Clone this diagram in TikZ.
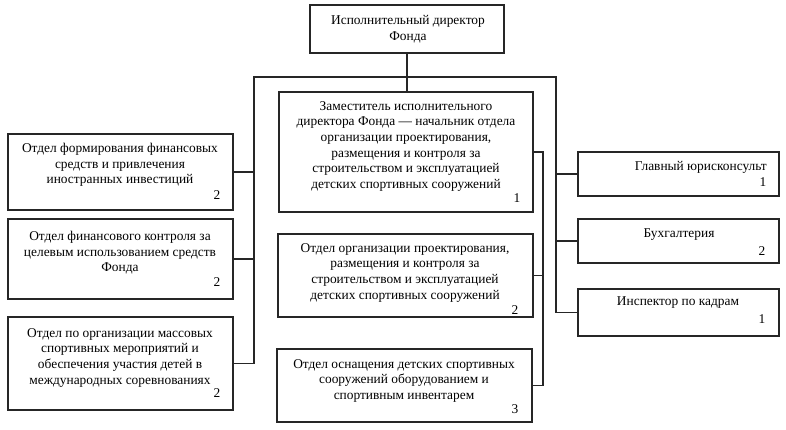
\documentclass[tikz,border=0pt]{standalone}
\usepackage{fontspec}
\setmainfont{Liberation Serif}
\begin{document}
\begin{tikzpicture}[x=1pt,y=-1pt,
  box/.style={draw=black!85,line width=1.3pt,rectangle,inner sep=0pt},
  txt/.style={font=\fontsize{13.4}{15.7}\selectfont,align=center,inner sep=0pt,anchor=north},
  num/.style={font=\fontsize{13.4}{15}\selectfont,inner sep=0pt},
  conn/.style={draw=black!85,line width=1.3pt}]
\useasboundingbox (0,0) rectangle (786,430);
% boxes
\node[box,minimum width=194pt,minimum height=48pt] (top) at (407,29) {};
\node[box,minimum width=225pt,minimum height=76pt] (l1) at (120.5,172) {};
\node[box,minimum width=225pt,minimum height=80pt] (l2) at (120.5,259) {};
\node[box,minimum width=225pt,minimum height=93pt] (l3) at (120.5,363.5) {};
\node[box,minimum width=254pt,minimum height=120pt] (dep) at (406,152) {};
\node[box,minimum width=255pt,minimum height=83pt] (m2) at (405.5,275.5) {};
\node[box,minimum width=255pt,minimum height=73pt] (m3) at (404.5,385.5) {};
\node[box,minimum width=201pt,minimum height=44pt] (r1) at (678.5,174) {};
\node[box,minimum width=201pt,minimum height=44pt] (r2) at (678.5,241) {};
\node[box,minimum width=201pt,minimum height=47pt] (r3) at (678.5,312.5) {};
% texts
\node[txt] (ttop) at (408,15) {Исполнительный директор\\Фонда};
\node[txt] (tl1) at (120,143) {Отдел формирования финансовых\\средств и привлечения\\иностранных инвестиций};
\node[num] (nl1) at (217,195) {2};
\node[txt] (tl2) at (120,231) {Отдел финансового контроля за\\целевым использованием средств\\Фонда};
\node[num] (nl2) at (217,282) {2};
\node[txt] (tl3) at (120,328) {Отдел по организации массовых\\спортивных мероприятий и\\обеспечения участия детей в\\международных соревнованиях};
\node[num] (nl3) at (217,393) {2};
\node[txt] (tdep) at (406,101) {Заместитель исполнительного\\директора Фонда — начальник отдела\\организации проектирования,\\размещения и контроля за\\строительством и эксплуатацией\\детских спортивных сооружений};
\node[num] (ndep) at (517,198) {1};
\node[txt] (tm2) at (405,243) {Отдел организации проектирования,\\размещения и контроля за\\строительством и эксплуатацией\\детских спортивных сооружений};
\node[num] (nm2) at (515,310) {2};
\node[txt] (tm3) at (404,359) {Отдел оснащения детских спортивных\\сооружений оборудованием и\\спортивным инвентарем};
\node[num] (nm3) at (515,409) {3};
\node[txt,anchor=east] (tr1) at (767,167) {Главный юрисконсульт};
\node[num] (nr1) at (763,182) {1};
\node[txt,anchor=center] (tr2) at (679,235) {Бухгалтерия};
\node[num] (nr2) at (762,251) {2};
\node[txt,anchor=center] (tr3) at (678,303) {Инспектор по кадрам};
\node[num] (nr3) at (762,319) {1};
% connectors
\coordinate (jl) at (254,77);
\coordinate (jr) at (556,77);
\coordinate (jm) at (543,152);
\draw[conn] (top.south) -- (top.south |- dep.north);
\draw[conn] (l3.east) -| (jl) -- (jr) |- (r3.west);
\draw[conn] (l1.east) -- (l1.east -| jl);
\draw[conn] (l2.east) -- (l2.east -| jl);
\draw[conn] (r1.west) -- (r1.west -| jr);
\draw[conn] (r2.west) -- (r2.west -| jr);
\draw[conn] (dep.east) -- (jm) |- (m3.east);
\draw[conn] (m2.east) -- (m2.east -| jm);
\end{tikzpicture}
\end{document}
